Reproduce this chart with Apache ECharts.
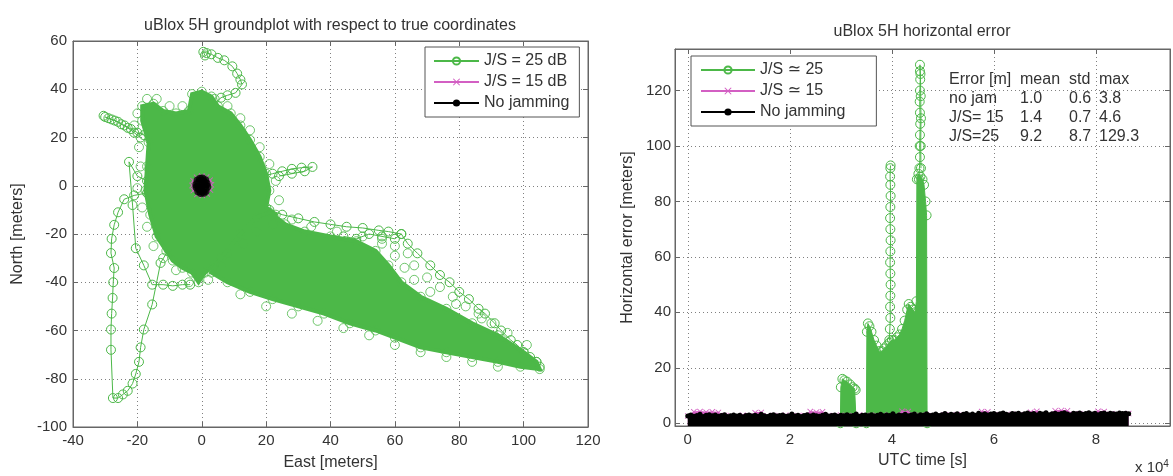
<!DOCTYPE html>
<html><head><meta charset="utf-8">
<script src="https://cdn.jsdelivr.net/npm/echarts@6/dist/echarts.min.js"></script>
<style>html,body{margin:0;padding:0;background:#fff}#c{width:1173px;height:476px}</style>
</head><body><div id="c"></div><script>
// ---------------- text ----------------
const leftTitle = 'uBlox 5H groundplot with respect to true coordinates';
const rightTitle = 'uBlox 5H horizontal error';
const leftLegend = ['J/S = 25 dB', 'J/S = 15 dB', 'No jamming'];
const rightLegend = ['J/S \u2243 25', 'J/S \u2243 15', 'No jamming'];
const leftXName = 'East [meters]';
const leftYName = 'North [meters]';
const rightXName = 'UTC time [s]';
const rightYName = 'Horizontal error [meters]';
const statsHeader = ['Error [m]', 'mean', 'std', 'max'];
const statsRows = [
  ['no jam', '1.0', '0.6', '3.8'],
  ['J/S= 15', '1.4', '0.7', '4.6'],
  ['J/S=25', '9.2', '8.7', '129.3']
];

// ---------------- left chart data (East, North) in meters ----------------
// dense core of the J/S = 25 dB track (outline of the region covered by points)
const g25Core = [[-18.5,33],[-15,34],[-12,31],[-8,30],[-4,31],[-3,38],[0,39],[3,37],[5,33],[9,30],[12,25],[15,19],[18,12],[20,5],[21,-2],[20,-9],[23,-12],[22,-16],[17,-19],[13,-24],[8,-28],[4,-33],[1,-36],[-1,-40],[-3,-36],[-6,-34],[-9,-31],[-11,-27],[-14,-21],[-16,-12],[-17.5,-2],[-17,8],[-16.5,18],[-18.5,27]];
// dense south-east excursion
const g25Tail = [[12,-20],[17,-13],[21,-11],[26,-16],[32,-19],[40,-21],[48,-23],[54,-27],[58,-33],[62,-40],[68,-46],[76,-51],[84,-57],[92,-62],[100,-69],[104,-73],[105,-76],[99,-75],[92,-73],[84,-71],[76,-69],[68,-67],[60,-63],[54,-60],[46,-57],[38,-53],[30,-50],[22,-47],[15,-44],[8,-40],[3,-36],[6,-30]];
// points scattered around the dense regions
const g25Fringe = [[-20,30],[-21,25],[-19.5,16],[-19,8],[-20,-1],[-18.5,-9],[-17,-17],[-15,-25],[-12,-30],[-8,-35],[-4,-40],[2,-39],[6,-33],[24,-6],[23,2],[21,9],[18,16],[15,23],[12,28],[8,33],[4,36],[-6,33],[-10,33],[-14,36],[-17,36],
  [28,-14],[34,-17],[42,-19],[50,-21],[56,-24],[60,-29],[63,-34],[66,-39],[71,-44],[79,-49],[87,-55],[95,-61],[101,-66],
  [56,-22],[60,-25],[64,-28],[66,-33],[70,-38],[74,-42],[78,-46],[82,-50],[86,-53],[90,-57],
  [12,-45],[20,-50],[28,-53],[36,-56],[44,-59],[52,-62],[60,-66],[68,-69],[76,-71],[84,-73],[92,-75]];
// individual excursions
const g25Top = [[3,33],[6,36.5],[8,37.5],[10.5,38.5],[12.5,42],[12,44],[11,46.5],[9.5,49.5],[7,52],[5,53],[3,54.5],[1.5,55],[0.5,55.5],[1,54]];
const g25NW = [[-16,19],[-18,21],[-20,22],[-22,23.5],[-24,25],[-26,26.5],[-28,27.5],[-30,28.5],[-30.5,29],[-29,28],[-27,27],[-25,25.5],[-23,24],[-21,22],[-19,20]];
const g25W = [[-17,2],[-20,4],[-22.6,9.9],[-21.5,-8],[-20.5,-25.9],[-18,-33],[-15.4,-41],[-12,-41],[-9,-41.5],[-6,-41],[-3.6,-41]];
const g25SW = [[-17,-3],[-21,-4],[-24.1,-5.6],[-26,-11],[-27.2,-16.2],[-28,-22],[-28.2,-27.9],[-27.2,-34.1],[-27.5,-40],[-27.7,-46.5],[-28,-53],[-28.2,-59.6],[-28.2,-68],[-27.6,-88],[-26,-88],[-24.5,-86.5],[-23,-85],[-21.5,-82],[-20.5,-78],[-19.5,-73],[-19,-67],[-18,-59.6],[-15.4,-49.2],[-12.8,-32],[-10.3,-26.5]];
const g25E = [[19,4],[22,5],[25,6],[28,7],[31,7.5],[34.4,7.8],[32,6],[28,5],[24,4]];
const g25NE = [[21,-10],[25,-12],[30,-13.5],[35,-15],[40,-16],[45,-17],[50,-17.5],[55,-18.5],[58,-19],[62,-20],[60,-22],[56,-21],[52,-20],[48,-22],[44,-21]];
const g25Ridge = [[62,-20],[64,-24],[67,-28],[71,-33],[74,-37],[77,-40],[80,-44],[83,-47],[86,-51],[88,-53],[91,-57],[93,-60],[96,-64],[98,-66],[100,-69],[102,-71],[104,-73],[105,-75]];
const p15 = [[3.0,0.4],[2.6,2.3],[1.5,3.6],[0,4.0],[-1.6,3.5],[-2.7,2.1],[-3.0,0.1],[-2.6,-2.0],[-1.5,-3.6],[0.2,-4.0],[1.7,-3.4],[2.7,-1.8],[2.2,1.0],[-2.0,-0.9]];
const b0 = [[-1.6,-0.6],[1.5,0.8],[-1.3,2.2],[1.2,-2.2],[-0.5,2.9],[0.6,-2.9],[-1.7,0.4],[1.7,-0.4],[0.2,3.0],[-0.3,-3.0],[1.1,2.3],[-1.1,-2.3],[0,0],[0.7,0.9],[-0.8,-1.0]];

// ---------------- right chart data (UTC time [s], error [m]) ----------------
// upper envelope of the dense no-jamming record, one value every 600 s
const blackStart = 0, blackStep = 600;
const blackEnv = [
2.6,3.0,2.5,2.8,3.2,2.4,2.9,3.1,2.7,3.0,
2.5,2.8,3.1,2.4,2.7,3.0,2.6,2.9,2.3,2.8,
3.0,2.6,2.9,2.5,3.2,2.7,2.4,2.9,3.1,2.6,
2.8,3.0,2.5,2.7,3.3,2.6,2.9,2.4,2.8,3.1,
2.6,3.0,2.7,2.5,2.9,3.2,2.6,2.8,3.0,2.5,
2.9,2.7,3.1,2.6,2.8,3.3,2.5,2.9,3.0,2.7,
3.1,2.6,2.9,3.2,2.7,3.0,2.8,3.4,2.6,3.0,
2.8,3.2,2.7,3.0,3.3,2.6,3.1,2.9,3.4,2.8,
3.0,3.3,2.8,3.1,3.5,2.9,3.2,3.0,3.4,2.8,
3.2,3.5,3.0,3.3,2.9,3.6,3.1,3.4,3.0,3.3,
3.5,3.1,3.4,3.7,3.2,3.0,3.5,3.3,3.6,3.1,
3.4,3.7,3.2,3.5,3.0,3.6,3.3,3.8,3.1,3.4,
3.6,3.2,3.5,3.8,3.3,3.0,3.6,3.4,3.7,3.2,
3.5,3.8,3.3,3.6,3.1,3.5,3.7,3.2,3.6,3.4,
3.3,3.7,3.5,3.6,3.4];
// upper envelope of the dense J/S = 15 record, one value every 1200 s
const pinkStart = 0, pinkStep = 1200;
const pinkEnv = [
2.6,4.1,4.2,4.0,4.1,3.9,2.8,2.7,2.5,2.9,
2.6,3.8,3.9,2.7,2.8,2.6,2.9,2.5,2.7,2.8,
4.2,4.0,4.1,2.8,2.7,2.9,2.6,2.8,3.0,2.7,
2.9,2.6,3.0,2.8,2.9,4.3,4.2,2.9,2.8,3.0,
2.7,2.9,3.0,2.8,3.1,2.9,3.0,2.8,4.2,4.1,
3.0,3.1,2.9,3.2,3.0,3.1,4.0,4.3,3.1,3.2,
4.5,4.6,4.5,3.2,3.4,3.1,3.3,4.3,4.2,3.2,
3.4,3.3,3.5];
// upper envelope of the dense J/S = 25 record
const r25Env = [[29900,0],[30000,13],[30300,16],[30700,15.5],[31200,15],[31800,14],[32300,13],[32700,12.5],[32900,12],[33000,0],[35000,0],[35100,33],[35300,36],[35600,35],[36000,33],[36500,30],[37000,28],[37500,26],[38000,26],[38500,27],[39000,28],[39500,29],[40000,30],[40500,30],[41000,31],[41500,32],[42000,34],[42500,37],[43000,41],[43300,43],[43700,42],[44100,41],[44500,40],[44800,44],[44900,88],[45200,90],[45600,89],[46000,88],[46300,86],[46600,80],[46800,75],[46900,0]];
const r25ColA = [[39500,30],[39600,34],[39700,38],[39650,42],[39700,46],[39750,50],[39700,54],[39650,58],[39700,62],[39750,66],[39700,70],[39650,74],[39700,78],[39750,82],[39700,86],[39650,89],[39700,92],[39750,93]];
const r25ColB = [[45300,88],[45400,92],[45500,96],[45450,100],[45500,104],[45550,108],[45500,112],[45450,116],[45500,120],[45550,124],[45500,127],[45500,129.3],[45600,126],[45650,118],[45700,110],[45650,100],[45700,92]];

// ---------------- styles ----------------
const GREEN = '#4cb848', PINK = '#d35fc3', BLACK = '#000000';
const FONT = '"Liberation Sans", Arial, "DejaVu Sans", sans-serif';
const TXT = '#333333', AX = '#666666', GRIDC = '#808080';
const XSYM = 'path://M0,1L1,0L5,4L9,0L10,1L6,5L10,9L9,10L5,6L1,10L0,9L4,5Z';

function track(name, data, xi, yi) {
  return {type:'line', name, data, xAxisIndex:xi, yAxisIndex:yi, symbol:'circle', symbolSize:9,
    itemStyle:{color:'rgba(0,0,0,0)', borderColor:GREEN, borderWidth:1},
    lineStyle:{color:GREEN, width:1}, animation:false, z:2};
}
function poly(name, pts) {
  return {type:'custom', name, data:pts, xAxisIndex:0, yAxisIndex:0, clip:true, silent:true, z:2,
    renderItem:(params, api) => {
      if (params.dataIndex !== 0) return null;
      return {type:'polygon', shape:{points: pts.map(p => api.coord(p))}, style:{fill:GREEN, stroke:GREEN, lineWidth:4}};
    }};
}
function axisCommon(extra) {
  return Object.assign({type:'value', axisLine:{show:true, onZero:false, lineStyle:{color:AX}},
    axisTick:{show:true, inside:true, length:5, lineStyle:{color:AX}},
    axisLabel:{color:TXT, fontSize:15, fontFamily:FONT},
    splitLine:{show:true, lineStyle:{color:GRIDC, type:[1,3], width:1}}}, extra);
}
function mirror(extra) {
  return Object.assign({type:'value', axisLine:{show:true, onZero:false, lineStyle:{color:AX}},
    axisTick:{show:true, inside:true, length:5, lineStyle:{color:AX}},
    axisLabel:{show:false}, splitLine:{show:false}}, extra);
}
const nameStyle = {color:TXT, fontSize:16, fontFamily:FONT};
const fmtX = v => (Math.abs(v % 20000) < 1e-6 ? String(v / 10000) : '');
const fmtY = v => (Math.abs(v % 20) < 1e-6 ? String(v) : '');

const blackData = blackEnv.map((v, i) => [blackStart + i * blackStep, v]);
const pinkData = pinkEnv.map((v, i) => [pinkStart + i * pinkStep, v]);

const statsCols = [949, 1020, 1069, 1099];
const statsRowY = [80, 99, 118, 137];
const graphics = [
  {type:'text', x:330, y:26, style:{text:leftTitle, font:'16px ' + FONT, fill:TXT, textAlign:'center', textVerticalAlign:'middle'}},
  {type:'text', x:922, y:32, style:{text:rightTitle, font:'16px ' + FONT, fill:TXT, textAlign:'center', textVerticalAlign:'middle'}},
  {type:'text', x:1135, y:468, style:{text:'x 10{s|4}', rich:{s:{fontSize:10, verticalAlign:'top', padding:[0,0,8,0]}}, font:'15px ' + FONT, fill:TXT, textVerticalAlign:'middle'}}
];
[statsHeader].concat(statsRows).forEach((row, r) => row.forEach((cell, c) => {
  graphics.push({type:'text', x:statsCols[c], y:statsRowY[r], z:10,
    style:{text:cell, font:'16px ' + FONT, fill:TXT, textVerticalAlign:'middle'}});
}));

const legendCommon = {orient:'vertical', selectedMode:false, itemWidth:45, itemHeight:9, itemGap:5,
  backgroundColor:'#fff', borderColor:'#555', borderWidth:1,
  textStyle:{color:TXT, fontSize:16, fontFamily:FONT}};

const option = {
  animation:false,
  backgroundColor:'#fff',
  graphic: graphics,
  grid:[
    {left:73, top:41, width:515, height:387, show:true, borderColor:AX, borderWidth:1, backgroundColor:'#fff'},
    {left:675, top:49, width:497, height:377, show:true, borderColor:AX, borderWidth:1, backgroundColor:'#fff'}
  ],
  legend:[
    Object.assign({}, legendCommon, {data:leftLegend, left:425, top:47, padding:[6,10,6,8]}),
    Object.assign({}, legendCommon, {data:rightLegend, left:691, top:56, itemWidth:54, padding:[6,31,6,9]})
  ],
  xAxis:[
    axisCommon({gridIndex:0, position:'bottom', min:-40, max:120, interval:20,
      axisLabel:{color:TXT, fontSize:15, fontFamily:FONT, margin:6},
      name:leftXName, nameLocation:'middle', nameGap:28, nameTextStyle:nameStyle}),
    mirror({gridIndex:0, position:'top', min:-40, max:120, interval:20}),
    axisCommon({gridIndex:1, position:'bottom', min:-2500, max:94500, splitNumber:5,
      axisLabel:{color:TXT, fontSize:15, fontFamily:FONT, margin:6, formatter:fmtX},
      name:rightXName, nameLocation:'middle', nameGap:27, nameTextStyle:nameStyle}),
    mirror({gridIndex:1, position:'top', min:-2500, max:94500, splitNumber:5})
  ],
  yAxis:[
    axisCommon({gridIndex:0, position:'left', min:-100, max:60, interval:20,
      axisLabel:{color:TXT, fontSize:15, fontFamily:FONT, margin:6},
      name:leftYName, nameLocation:'middle', nameGap:47, nameRotate:90, nameTextStyle:nameStyle}),
    mirror({gridIndex:0, position:'right', min:-100, max:60, interval:20}),
    axisCommon({gridIndex:1, position:'left', min:-1, max:135, splitNumber:7,
      axisLabel:{color:TXT, fontSize:15, fontFamily:FONT, margin:4, formatter:fmtY},
      name:rightYName, nameLocation:'middle', nameGap:39, nameRotate:90, nameTextStyle:nameStyle}),
    mirror({gridIndex:1, position:'right', min:-1, max:135, splitNumber:7})
  ],
  series:[
    // ---- left chart ----
    track(leftLegend[0], g25Top, 0, 0),
    poly('core25', g25Core),
    poly('tail25', g25Tail),
    track(leftLegend[0], g25NW, 0, 0),
    track(leftLegend[0], g25W, 0, 0),
    track(leftLegend[0], g25SW, 0, 0),
    track(leftLegend[0], g25E, 0, 0),
    track(leftLegend[0], g25NE, 0, 0),
    track(leftLegend[0], g25Ridge, 0, 0),
    {type:'scatter', name:'edge25', xAxisIndex:0, yAxisIndex:0, data:g25Core.concat(g25Tail, g25Fringe),
      symbol:'circle', symbolSize:9, itemStyle:{color:'rgba(0,0,0,0)', borderColor:GREEN, borderWidth:1}, z:2, silent:true},
    {type:'line', name:leftLegend[1], xAxisIndex:0, yAxisIndex:0, data:p15, symbol:XSYM, symbolSize:6,
      itemStyle:{color:PINK}, lineStyle:{color:PINK, width:1}, z:3},
    {type:'line', name:leftLegend[2], xAxisIndex:0, yAxisIndex:0, data:b0, symbol:'circle', symbolSize:4,
      itemStyle:{color:BLACK}, lineStyle:{color:BLACK, width:1}, z:4},
    {type:'scatter', name:'fill0', xAxisIndex:0, yAxisIndex:0, data:b0, symbol:'circle', symbolSize:8,
      itemStyle:{color:BLACK}, z:4, silent:true},
    // ---- right chart ----
    Object.assign(track(rightLegend[0], r25Env, 2, 2), {areaStyle:{color:GREEN, opacity:1, origin:'start'}}),
    track(rightLegend[0], r25ColA, 2, 2),
    track(rightLegend[0], r25ColB, 2, 2),
    {type:'line', name:rightLegend[1], xAxisIndex:2, yAxisIndex:2, data:pinkData, symbol:XSYM, symbolSize:6,
      itemStyle:{color:PINK}, lineStyle:{color:PINK, width:1}, areaStyle:{color:PINK, opacity:1, origin:'start'}, z:3},
    {type:'line', name:leftLegend[2], xAxisIndex:2, yAxisIndex:2, data:blackData, symbol:'circle', symbolSize:5,
      itemStyle:{color:BLACK}, lineStyle:{color:BLACK, width:1}, areaStyle:{color:BLACK, opacity:1, origin:'start'}, z:4}
  ]
};
const chart = echarts.init(document.getElementById('c'));
chart.setOption(option);
</script></body></html>
